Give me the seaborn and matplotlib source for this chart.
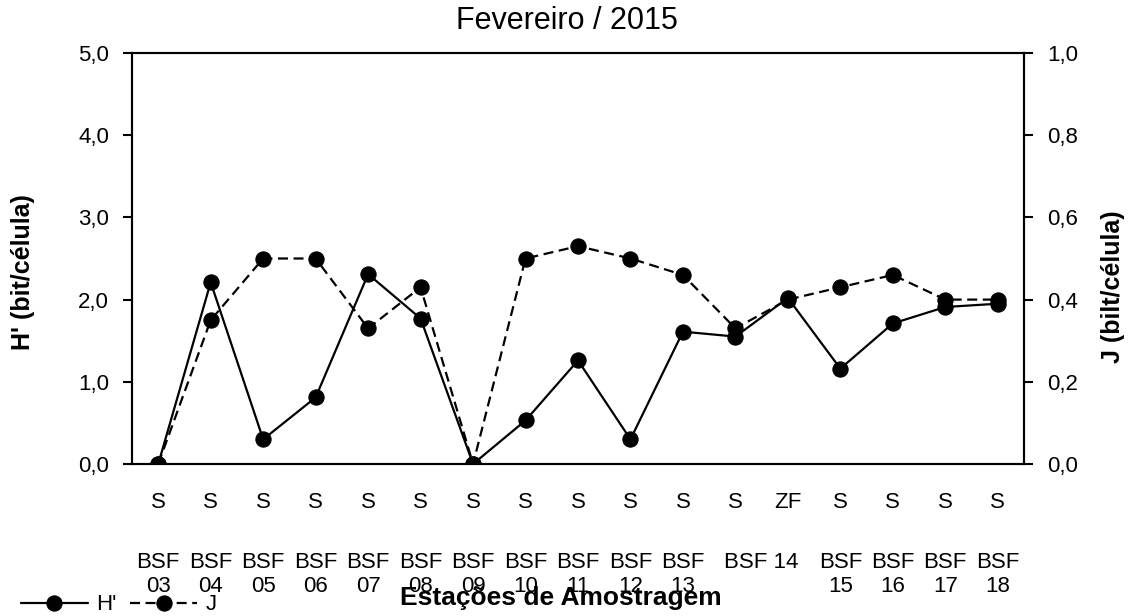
import pandas as pd
import matplotlib
matplotlib.use("Agg")
import matplotlib.pyplot as plt
import seaborn as sns
from matplotlib.ticker import FuncFormatter, MultipleLocator

# -------------------------------------------------------------
# dados (fevereiro / 2015)
# -------------------------------------------------------------
estacoes = ["03", "04", "05", "06", "07", "08", "09", "10", "11", "12",
            "13", "14", "14", "15", "16", "17", "18"]
zonas = ["S", "S", "S", "S", "S", "S", "S", "S", "S", "S",
         "S", "S", "ZF", "S", "S", "S", "S"]
h_div = [0.0, 2.21, 0.30, 0.81, 2.31, 1.77, 0.0, 0.53, 1.26, 0.30,
         1.61, 1.55, 2.02, 1.16, 1.71, 1.91, 1.95]
j_eq = [0.0, 0.35, 0.50, 0.50, 0.33, 0.43, 0.0, 0.50, 0.53, 0.50,
        0.46, 0.33, 0.40, 0.43, 0.46, 0.40, 0.40]

df = pd.DataFrame({"pos": range(len(zonas)), "estacao": estacoes,
                   "zona": zonas, "H": h_div, "J": j_eq})

# rótulos das estações (a BSF 14 ocupa duas categorias)
grp = df.groupby("estacao", sort=False)["pos"].agg(["mean", "size"])
est_pos = grp["mean"].tolist()
est_lab = [f"BSF {e}" if n > 1 else f"BSF\n{e}" for e, n in zip(grp.index, grp["size"])]

# -------------------------------------------------------------
# figura
# -------------------------------------------------------------
sns.set_style("white")
plt.rcParams["font.family"] = ["Liberation Sans", "DejaVu Sans"]
plt.rcParams.update({"text.color": "black", "xtick.color": "black",
                     "ytick.color": "black", "axes.labelcolor": "black"})

fig = plt.figure(figsize=(11.34, 6.16), dpi=100)
ax = fig.add_axes([132 / 1134, 1 - 464 / 616, 892 / 1134, 411 / 616])
ax2 = ax.twinx()

sns.lineplot(data=df, x="pos", y="H", ax=ax, color="black", lw=1.6,
             marker="o", markersize=11, markeredgecolor="black",
             label="H'", legend=False)
sns.lineplot(data=df, x="pos", y="J", ax=ax2, color="black", lw=1.6,
             linestyle=(0, (4.5, 2.5)), marker="o", markersize=11,
             markeredgecolor="black", label="J", legend=False)

ax.set_xlim(-0.5, len(zonas) - 0.5)
ax.set_ylim(0, 5)
ax2.set_ylim(0, 1)
ax.yaxis.set_major_locator(MultipleLocator(1))
ax2.yaxis.set_major_locator(MultipleLocator(0.2))
virgula = FuncFormatter(lambda v, p: f"{v:.1f}".replace(".", ","))
ax.yaxis.set_major_formatter(virgula)
ax2.yaxis.set_major_formatter(virgula)

ax.set_xticks(df["pos"], labels=df["zona"])
ax.tick_params(axis="x", length=0, pad=20, labelsize=16)
ax.tick_params(axis="y", direction="out", length=6.5, width=1.5, pad=10,
               labelsize=16, left=True)
ax2.tick_params(axis="y", direction="out", length=6.5, width=1.5, pad=10,
                labelsize=16, right=True)

sec = ax.secondary_xaxis("bottom")
sec.set_xticks(est_pos, labels=est_lab)
sec.tick_params(length=0, pad=63, labelsize=16)
sec.spines["bottom"].set_visible(False)
for t in sec.get_xticklabels():
    t.set_linespacing(1.25)

for a in (ax, ax2):
    for s in a.spines.values():
        s.set_color("black")
        s.set_linewidth(1.5)
ax.set_xlabel("")
ax.set_ylabel("")
ax2.set_ylabel("")

fig.suptitle("Fevereiro / 2015", x=0.5, y=1 - 21 / 616, va="center",
             fontsize=22)
fig.text(23 / 1134, 1 - 272 / 616, "H' (bit/célula)", rotation=90,
         ha="center", va="center", fontsize=18, fontweight="bold")
fig.text(1113 / 1134, 1 - 287 / 616, "J (bilt/célula)", rotation=90,
         ha="center", va="center", fontsize=18, fontweight="bold")
fig.text(561 / 1134, 1 - 605 / 616, "Estações de Amostragem",
         ha="center", va="baseline", fontsize=19, fontweight="bold")

h1, l1 = ax.get_legend_handles_labels()
h2, l2 = ax2.get_legend_handles_labels()
fig.legend(h1 + h2, l1 + l2, loc="center left",
           bbox_to_anchor=(21 / 1134, 1 - 605 / 616), ncol=2, frameon=False,
           fontsize=16, borderpad=0, borderaxespad=0, handlelength=3.0,
           handletextpad=0.4, columnspacing=0.6)

fig.savefig("out.png", dpi=100)
